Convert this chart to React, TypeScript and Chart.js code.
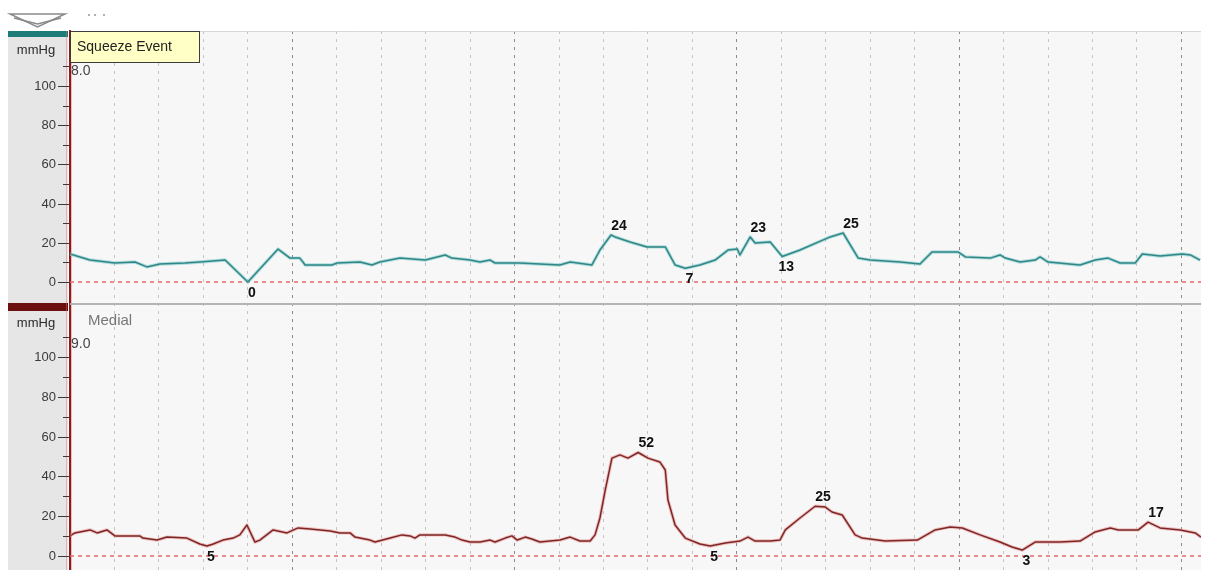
import React, { useEffect, useRef } from "react";
import { Chart, registerables } from "chart.js";

Chart.register(...registerables);

// Recording window in seconds (one dotted grid line per second)
const X_END = 25.44;
const gridSeconds = [1, 2, 3, 4, 5, 6, 7, 8, 9, 10, 11, 12, 13, 14, 15, 16, 17, 18, 19, 20, 21, 22, 23, 24, 25];

// Upper channel (squeeze) – time [s] and pressure [mmHg]
const squeezeTime = [
  0.0, 0.45, 1.01, 1.46, 1.73, 2.02, 2.59, 2.92, 3.49, 4.0, 4.68, 4.95, 5.17, 5.29, 5.89, 6.01, 6.52, 6.79,
  6.97, 7.42, 7.99, 8.44, 8.59, 9.0, 9.22, 9.45, 9.56, 10.12, 11.02, 11.25, 11.74, 11.92, 12.17, 12.26,
  12.6, 12.98, 13.39, 13.61, 13.84, 14.17, 14.51, 14.8, 15.01, 15.07, 15.3, 15.41, 15.75, 16.02, 16.42,
  17.1, 17.39, 17.73, 18.0, 18.67, 19.12, 19.39, 19.98, 20.14, 20.7, 20.92, 21.04, 21.37, 21.71, 21.82,
  22.0, 22.72, 23.06, 23.35, 23.62, 23.96, 24.12, 24.52, 25.02, 25.2, 25.42,
];
const squeezePressure = [
  14.3, 11.2, 9.7, 10.2, 7.7, 9.2, 9.7, 10.2, 11.2, 0, 16.8, 12.2, 12.2, 8.7, 8.7, 9.7, 10.2, 8.7,
  10.2, 12.2, 11.2, 13.8, 12.2, 11.2, 10.2, 11.2, 9.7, 9.7, 8.7, 10.2, 8.7, 16.3, 24, 23,
  20.4, 17.9, 17.9, 8.7, 7, 8.7, 11.2, 16.3, 16.8, 13.8, 23, 19.9, 20.4, 13, 16.3,
  23, 25, 12.2, 11.2, 10.2, 9.2, 15.3, 15.3, 12.8, 12.2, 13.8, 12.2, 10.2, 11.2, 12.8,
  10.2, 8.7, 11.2, 12.2, 9.7, 9.7, 14.3, 13.3, 14.3, 13.8, 11.2,
];
const squeezeMarks = [4.0, 12.17, 13.84, 15.3, 16.02, 17.39];

// Lower channel (medial) – time [s] and pressure [mmHg]
const medialTime = [
  0.0, 0.11, 0.45, 0.61, 0.83, 1.01, 1.57, 1.64, 1.96, 2.18, 2.63, 2.92, 3.08, 3.22, 3.44, 3.67, 3.82,
  3.98, 4.16, 4.27, 4.57, 4.88, 5.13, 5.4, 5.85, 6.07, 6.3, 6.41, 6.75, 6.86, 7.2, 7.47, 7.65, 7.76,
  7.87, 8.44, 8.66, 8.82, 9.0, 9.22, 9.45, 9.56, 9.79, 9.94, 10.06, 10.24, 10.39, 10.57, 11.02, 11.25,
  11.47, 11.7, 11.81, 11.92, 12.04, 12.19, 12.37, 12.55, 12.78, 13.0, 13.27, 13.39, 13.45, 13.61, 13.84,
  14.17, 14.4, 14.74, 15.07, 15.25, 15.41, 15.75, 15.97, 16.09, 16.42, 16.76, 16.99, 17.14, 17.37, 17.66,
  17.82, 18.34, 19.06, 19.46, 19.8, 20.07, 20.47, 20.92, 21.19, 21.42, 21.71, 22.27, 22.72, 23.06, 23.4,
  23.58, 24.03, 24.25, 24.52, 24.97, 25.31, 25.44,
];
const medialPressure = [
  10.1, 11.6, 13.1, 11.6, 13.1, 10.1, 10.1, 9.0, 8.0, 9.5, 9.0, 6.0, 5, 6.0, 8.0, 9.0, 10.6,
  15.6, 7.0, 8.0, 13.1, 11.6, 14.1, 13.6, 12.6, 11.6, 11.6, 9.5, 8.0, 7.0, 9.0, 10.6, 10.1, 9.0,
  10.6, 10.6, 9.5, 8.0, 7.0, 7.0, 8.0, 7.0, 9.0, 10.1, 8.0, 9.5, 8.5, 7.0, 8.0, 9.5,
  7.5, 7.5, 10.6, 19.1, 33.2, 49.2, 50.8, 49.2, 52, 49.2, 47.2, 43.2, 28.1, 15.6, 9.0,
  6.0, 5, 6.5, 7.5, 9.5, 7.5, 7.5, 8.0, 13.1, 19.1, 25, 24.6, 22.1, 20.6, 10.6,
  9.0, 7.5, 8.0, 13.1, 14.6, 14.1, 10.6, 7.0, 4.5, 3, 7.0, 7.0, 7.5, 12.1, 14.1,
  13.1, 13.1, 17, 14.1, 13.1, 11.6, 9.5,
];
const medialMarks = [3.08, 12.78, 14.4, 16.76, 21.42, 24.25];

// Pressure axis ticks (every 10 mmHg, labelled every 20)
const pressureTicks = [0, 10, 20, 30, 40, 50, 60, 70, 80, 90, 100, 110];
const pressureLabels = [0, 20, 40, 60, 80, 100];

const FONT = "'Liberation Sans', Arial, sans-serif";

const toPoints = (t: number[], v: number[]) => t.map((x, i) => ({ x, y: v[i] }));
const baseline = [
  { x: 0, y: 0 },
  { x: X_END, y: 0 },
];

function markLabels(
  chart: any,
  ctx: CanvasRenderingContext2D,
  axisId: string,
  time: number[],
  values: number[],
  marks: number[]
) {
  const xs = chart.scales.x;
  const ys = chart.scales[axisId];
  ctx.save();
  ctx.font = `bold 14px ${FONT}`;
  ctx.fillStyle = "#111";
  ctx.textAlign = "center";
  ctx.textBaseline = "middle";
  marks.forEach((m) => {
    const i = time.indexOf(m);
    if (i < 0) return;
    const v = values[i];
    const prev = values[Math.max(0, i - 1)];
    const next = values[Math.min(values.length - 1, i + 1)];
    const peak = v >= prev && v >= next;
    const px = xs.getPixelForValue(time[i]);
    const py = ys.getPixelForValue(v);
    if (peak) ctx.fillText(String(v), px + 8, py - 9);
    else ctx.fillText(String(v), px + 4, py + 11);
  });
  ctx.restore();
}

const panelPlugin = {
  id: "panelDecor",
  beforeDraw(chart: any) {
    const { ctx, chartArea } = chart;
    ctx.save();
    ctx.fillStyle = "#ffffff";
    ctx.fillRect(0, 0, chart.width, chart.height);
    ctx.fillStyle = "#f7f7f7";
    ctx.fillRect(chartArea.left, chartArea.top, chartArea.right - chartArea.left, chartArea.bottom - chartArea.top);
    // grey label column
    ctx.fillStyle = "#e6e6e6";
    ctx.fillRect(8, chartArea.top, 60, chartArea.bottom - chartArea.top);
    // collapse chevron
    ctx.strokeStyle = "#8a8a8a";
    ctx.lineWidth = 1.5;
    ctx.beginPath();
    ctx.moveTo(10, 14);
    ctx.lineTo(65, 14);
    ctx.lineTo(37.5, 27);
    ctx.closePath();
    ctx.stroke();
    ctx.beginPath();
    ctx.moveTo(14, 18);
    ctx.lineTo(37.5, 24);
    ctx.lineTo(61, 18);
    ctx.stroke();
    ctx.fillStyle = "#b0b0b0";
    [88, 94, 103].forEach((x) => ctx.fillRect(x, 14, 2, 2));
    ctx.restore();
  },
  afterDraw(chart: any) {
    const { ctx, chartArea } = chart;
    const yTop = chart.scales.yTop;
    const yBot = chart.scales.yBot;
    ctx.save();

    // panel frames
    ctx.strokeStyle = "#d8d8d8";
    ctx.lineWidth = 1;
    ctx.beginPath();
    ctx.moveTo(chartArea.left, chartArea.top + 0.5);
    ctx.lineTo(chartArea.right, chartArea.top + 0.5);
    ctx.stroke();
    ctx.strokeStyle = "#b4b4b4";
    ctx.lineWidth = 2;
    ctx.beginPath();
    ctx.moveTo(chartArea.left, yBot.top + 1);
    ctx.lineTo(chartArea.right, yBot.top + 1);
    ctx.stroke();

    // channel colour bars
    ctx.fillStyle = "#1d7b78";
    ctx.fillRect(8, yTop.top, 60, 6);
    ctx.fillStyle = "#6c0f0f";
    ctx.fillRect(8, yBot.top, 60, 8);

    // soft halo around the red axis
    ctx.strokeStyle = "rgba(214,120,120,0.45)";
    ctx.lineWidth = 1;
    [66.5, 71.5].forEach((x) => {
      ctx.beginPath();
      ctx.moveTo(x, chartArea.top);
      ctx.lineTo(x, chartArea.bottom);
      ctx.stroke();
    });

    // tick marks and labels of both pressure axes
    ctx.strokeStyle = "#3a3a3a";
    ctx.fillStyle = "#3a3a3a";
    ctx.lineWidth = 1;
    ctx.font = `13px ${FONT}`;
    ctx.textAlign = "right";
    ctx.textBaseline = "middle";
    [yTop, yBot].forEach((s) => {
      pressureTicks.forEach((v) => {
        const y = Math.round(s.getPixelForValue(v)) + 0.5;
        const major = pressureLabels.includes(v);
        ctx.beginPath();
        ctx.moveTo(major ? 58 : 63, y);
        ctx.lineTo(69, y);
        ctx.stroke();
        if (major) ctx.fillText(String(v), 56, y);
      });
    });

    // channel captions
    ctx.fillStyle = "#2a2a2a";
    ctx.font = `13px ${FONT}`;
    ctx.textAlign = "center";
    ctx.textBaseline = "middle";
    ctx.fillText("mmHg", 36, yTop.top + 19);
    ctx.fillText("mmHg", 36, yBot.top + 20);
    ctx.textAlign = "left";
    ctx.font = `14px ${FONT}`;
    ctx.fillStyle = "#444";
    ctx.fillText("8.0", 71, yTop.top + 40);
    ctx.fillText("9.0", 71, yBot.top + 41);
    ctx.font = `15px ${FONT}`;
    ctx.fillStyle = "#777";
    ctx.fillText("Medial", 88, yBot.top + 18);

    // event note
    ctx.fillStyle = "#ffffc6";
    ctx.fillRect(70, yTop.top, 130, 32);
    ctx.strokeStyle = "#3c3c3c";
    ctx.lineWidth = 1;
    ctx.strokeRect(70.5, yTop.top + 0.5, 129, 31);
    ctx.fillStyle = "#222";
    ctx.font = `14px ${FONT}`;
    ctx.textBaseline = "middle";
    ctx.fillText("Squeeze Event", 77, yTop.top + 16);

    ctx.restore();

    markLabels(chart, ctx, "yTop", squeezeTime, squeezePressure, squeezeMarks);
    markLabels(chart, ctx, "yBot", medialTime, medialPressure, medialMarks);
  },
};

function pressureAxis(weight: number, min: number, max: number) {
  return {
    type: "linear" as const,
    position: "left" as const,
    stack: "channels",
    stackWeight: weight,
    min,
    max,
    afterBuildTicks: (s: any) => {
      s.ticks = pressureTicks.map((value) => ({ value }));
    },
    afterFit: (s: any) => {
      s.width = 68;
    },
    ticks: { display: false },
    grid: { drawOnChartArea: false, drawTicks: false },
    border: { color: "#8e1b1b", width: 2 },
  };
}

export default function App() {
  const ref = useRef<HTMLCanvasElement>(null);

  useEffect(() => {
    const canvas = ref.current;
    if (!canvas) return;
    const chart = new Chart(canvas, {
      type: "line",
      data: {
        // higher "order" is painted first, so halos sit beneath the trace cores
        datasets: [
          { data: baseline, yAxisID: "yTop", order: 3, borderColor: "#e36b6b", borderWidth: 1.5, borderDash: [4, 4] },
          { data: baseline, yAxisID: "yBot", order: 3, borderColor: "#e36b6b", borderWidth: 1.5, borderDash: [4, 4] },
          { data: toPoints(squeezeTime, squeezePressure), yAxisID: "yTop", order: 2, borderColor: "rgba(150,208,208,0.7)", borderWidth: 3.4 },
          { data: toPoints(squeezeTime, squeezePressure), yAxisID: "yTop", order: 1, borderColor: "#2f8787", borderWidth: 1.5 },
          { data: toPoints(medialTime, medialPressure), yAxisID: "yBot", order: 2, borderColor: "rgba(232,170,170,0.7)", borderWidth: 3.4 },
          { data: toPoints(medialTime, medialPressure), yAxisID: "yBot", order: 1, borderColor: "#7e2626", borderWidth: 1.5 },
        ],
      },
      options: {
        animation: false,
        responsive: false,
        events: [],
        layout: { padding: { top: 31, right: 10, left: 2, bottom: 0 } },
        plugins: { legend: { display: false }, tooltip: { enabled: false } },
        elements: { point: { radius: 0 }, line: { tension: 0, borderJoinStyle: "round" } },
        scales: {
          x: {
            type: "linear",
            min: 0,
            max: X_END,
            afterBuildTicks: (s: any) => {
              s.ticks = gridSeconds.map((value) => ({ value }));
            },
            afterFit: (s: any) => {
              s.height = 0;
            },
            ticks: { display: false },
            grid: {
              drawTicks: false,
              lineWidth: 1,
              color: (c: any) => (c.tick && c.tick.value % 5 === 0 ? "#8a8a8a" : "#c4c4c4"),
            },
            border: { display: false, dash: [3, 5] },
          },
          // stacked layout places the later-declared axis on top
          yBot: pressureAxis(267, -7.04, 127.14),
          yTop: pressureAxis(272, -10.71, 128.06),
        },
      } as any,
      plugins: [panelPlugin],
    });
    return () => chart.destroy();
  }, []);

  return (
    <div style={{ position: "fixed", left: 0, top: 0, width: 1211, height: 570, background: "#fff" }}>
      <canvas ref={ref} width={1211} height={570} style={{ display: "block" }} />
    </div>
  );
}
